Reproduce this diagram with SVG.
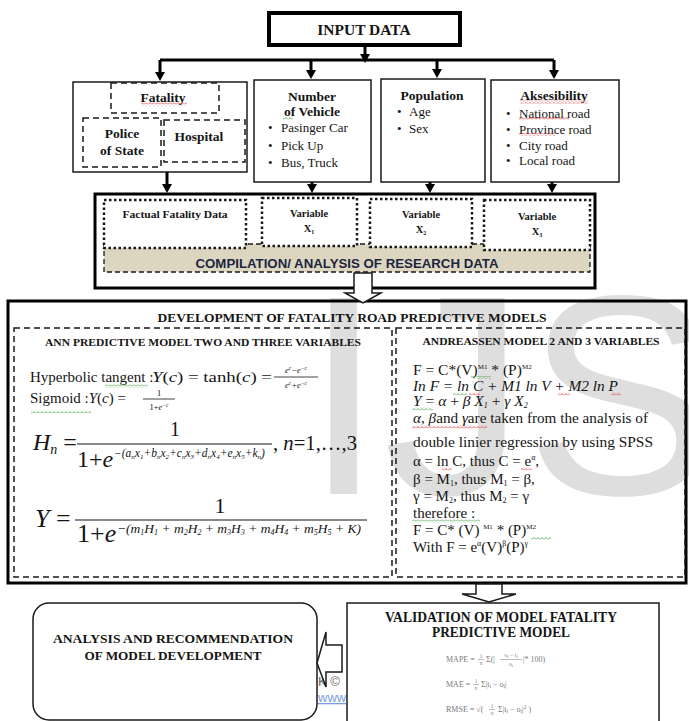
<svg xmlns="http://www.w3.org/2000/svg" width="689" height="721" viewBox="0 0 689 721">
<style>
.bt{font-family:"Liberation Serif",serif;font-weight:bold;fill:#151515}
.rt{font-family:"Liberation Serif",serif;fill:#151515}
.it{font-style:italic}
.box{fill:#fff;stroke:#1a1a1a;stroke-width:1.5}
.dash{fill:none;stroke:#1a1a1a;stroke-width:1.5;stroke-dasharray:6 4}
.dot{fill:#fff;stroke:#1a1a1a;stroke-width:2.5;stroke-dasharray:2.5 2.5}
.conn{stroke:#000;stroke-width:3;fill:none}
.block{fill:#fff;stroke:#1a1a1a;stroke-width:1.5;stroke-linejoin:miter}
.wm{font-family:"Liberation Sans",sans-serif;fill:#dedede}
.vf{font-family:"Liberation Serif",serif;fill:#7a7a7a}
</style>
<defs>
<marker id="ah" markerWidth="10" markerHeight="10" refX="2" refY="5" orient="auto" markerUnits="userSpaceOnUse">
<path d="M0,0 L9,5 L0,10 z" fill="#000"/>
</marker>
<pattern id="wr" width="4" height="3" patternUnits="userSpaceOnUse"><path d="M0 2.5 L2 0.5 L4 2.5" fill="none" stroke="#e03030" stroke-width="0.8"/></pattern>
<pattern id="wg" width="4" height="3" patternUnits="userSpaceOnUse"><path d="M0 2.5 L2 0.5 L4 2.5" fill="none" stroke="#3a9a3a" stroke-width="0.8"/></pattern>
</defs>
<rect width="689" height="721" fill="#fff"/>
<!-- watermark -->
<text class="wm" x="304" y="494" font-size="285">IJS</text>

<g id="input-data">
<rect x="269" y="13" width="191" height="32" fill="#fff" stroke="#000" stroke-width="4"/>
<text class="bt" x="364" y="35" font-size="15.5" text-anchor="middle">INPUT DATA</text>
</g>

<g id="fatality">
<rect class="box" x="73" y="82" width="174" height="90"/>
<rect class="dash" x="111" y="83" width="108" height="30"/>
<text class="bt" x="163" y="102" font-size="13.5" text-anchor="middle">Fatality</text>
<rect x="141" y="102.5" width="46" height="3" fill="url(#wr)"/>
<rect class="dash" x="83" y="118" width="78" height="49"/>
<text class="bt" x="122" y="138" font-size="13.5" text-anchor="middle">Police</text>
<text class="bt" x="122" y="155" font-size="13.5" text-anchor="middle">of State</text>
<rect class="dash" x="164" y="120" width="81" height="42"/>
<text class="bt" x="199" y="141" font-size="13.5" text-anchor="middle">Hospital</text>
</g>

<g id="number-of-vehicle">
<rect class="box" x="254" y="80" width="117" height="102"/>
<text class="bt" x="312" y="101" font-size="13.5" text-anchor="middle">Number</text>
<text class="bt" x="312" y="116" font-size="13.5" text-anchor="middle">of Vehicle</text>
<rect x="283" y="116.5" width="10" height="3" fill="url(#wg)"/>
<text class="rt" x="268" y="132" font-size="13">•</text><text class="rt" x="281" y="132" font-size="13">Pasinger Car</text>
<text class="rt" x="268" y="150" font-size="13">•</text><text class="rt" x="281" y="150" font-size="13">Pick Up</text>
<text class="rt" x="268" y="167" font-size="13">•</text><text class="rt" x="281" y="167" font-size="13">Bus,  Truck</text>
</g>

<g id="population">
<rect class="box" x="381" y="79" width="104" height="103"/>
<text class="bt" x="432" y="100" font-size="13.5" text-anchor="middle">Population</text>
<text class="rt" x="397" y="116" font-size="13">•</text><text class="rt" x="409" y="116" font-size="13">Age</text>
<text class="rt" x="397" y="133" font-size="13">•</text><text class="rt" x="409" y="133" font-size="13">Sex</text>
</g>

<g id="aksesibility">
<rect class="box" x="491" y="80" width="128" height="102"/>
<text class="bt" x="554" y="100" font-size="13.5" text-anchor="middle">Aksesibility</text>
<rect x="520" y="100.5" width="68" height="3" fill="url(#wr)"/>
<text class="rt" x="506" y="118" font-size="13">•</text><text class="rt" x="519" y="118" font-size="13">National road</text>
<rect x="519" y="117" width="50" height="3" fill="url(#wr)"/>
<text class="rt" x="506" y="134" font-size="13">•</text><text class="rt" x="519" y="134" font-size="13">Province road</text>
<rect x="519" y="133" width="36" height="3" fill="url(#wr)"/>
<text class="rt" x="506" y="150" font-size="13">•</text><text class="rt" x="519" y="150" font-size="13">City road</text>
<text class="rt" x="506" y="165" font-size="13">•</text><text class="rt" x="519" y="165" font-size="13">Local road</text>
</g>

<g id="compilation">
<rect x="95" y="194" width="500" height="94" fill="#fff" stroke="#000" stroke-width="3"/>
<rect x="104" y="244" width="486" height="28" fill="#dcd6c1" stroke="#1a1a1a" stroke-width="1.3" stroke-dasharray="5 3"/>
<text x="347" y="268" font-family="Liberation Sans, sans-serif" font-weight="bold" font-size="13" fill="#1d2540" text-anchor="middle" textLength="303" lengthAdjust="spacingAndGlyphs">COMPILATION/ ANALYSIS OF RESEARCH DATA</text>
</g>
<g id="factual-fatality-data">
<rect class="dot" x="104" y="200" width="142" height="48"/>
<text class="bt" x="175" y="218" font-size="9.5" text-anchor="middle" textLength="105" lengthAdjust="spacingAndGlyphs">Factual Fatality Data</text>
</g>
<g id="variable-x1">
<rect class="dot" x="262" y="198" width="95" height="48"/>
<text class="bt" x="309" y="217" font-size="10.5" text-anchor="middle">Variable</text>
<text class="bt" x="309" y="232" font-size="10.5" text-anchor="middle">X<tspan font-size="6" dy="2">1</tspan></text>
</g>
<g id="variable-x2">
<rect class="dot" x="370" y="199" width="102" height="48"/>
<text class="bt" x="421" y="218" font-size="10.5" text-anchor="middle">Variable</text>
<text class="bt" x="421" y="233" font-size="10.5" text-anchor="middle">X<tspan font-size="6" dy="2">2</tspan></text>
</g>
<g id="variable-x3">
<rect class="dot" x="484" y="200" width="106" height="50"/>
<text class="bt" x="537" y="220" font-size="10.5" text-anchor="middle">Variable</text>
<text class="bt" x="537" y="235" font-size="10.5" text-anchor="middle">X<tspan font-size="6" dy="2">3</tspan></text>
</g>

<g id="development">
<rect x="8" y="301" width="678" height="282" fill="none" stroke="#000" stroke-width="3"/>
<text class="bt" x="352" y="322" font-size="13" text-anchor="middle" textLength="389" lengthAdjust="spacingAndGlyphs">DEVELOPMENT OF FATALITY ROAD PREDICTIVE MODELS</text>
</g>

<g id="ann-model">
<rect class="dash" x="14" y="328" width="378" height="249"/>
<text class="bt" x="203" y="346" font-size="10" text-anchor="middle" textLength="316" lengthAdjust="spacingAndGlyphs">ANN PREDICTIVE MODEL TWO AND THREE VARIABLES</text>
<text class="rt" x="30" y="382" font-size="15">Hyperbolic tangent :</text>
<rect x="105" y="384.5" width="43" height="3" fill="url(#wg)"/>
<text class="rt" x="152" y="382" font-size="15" textLength="120" lengthAdjust="spacingAndGlyphs"><tspan class="it">Y</tspan>(<tspan class="it">c</tspan>) = tanh(<tspan class="it">c</tspan>) =</text>
<text class="rt it" x="296" y="373" font-size="8.5" text-anchor="middle">e<tspan font-size="5.5" dy="-3">c</tspan><tspan dy="3">−e</tspan><tspan font-size="5.5" dy="-3">−c</tspan></text>
<line x1="274" y1="377" x2="318" y2="377" stroke="#151515" stroke-width="0.8"/>
<text class="rt it" x="296" y="388" font-size="8.5" text-anchor="middle">e<tspan font-size="5.5" dy="-3">c</tspan><tspan dy="3">+e</tspan><tspan font-size="5.5" dy="-3">−c</tspan></text>
<text class="rt" x="30" y="403" font-size="15">Sigmoid :<tspan class="it">Y</tspan>(<tspan class="it">c</tspan>) =</text>
<rect x="31" y="410.5" width="60" height="3" fill="url(#wg)"/>
<text class="rt" x="159" y="396" font-size="8.5" text-anchor="middle">1</text>
<line x1="143" y1="399" x2="175" y2="399" stroke="#151515" stroke-width="0.8"/>
<text class="rt" x="159" y="410" font-size="8.5" text-anchor="middle">1+<tspan class="it">e</tspan><tspan font-size="5.5" dy="-3" class="it">−c</tspan></text>
<text class="rt it" x="33" y="450" font-size="24">H<tspan font-size="14" dy="4">n</tspan><tspan dy="-4" font-style="normal"> =</tspan></text>
<text class="rt" x="175" y="436" font-size="20" text-anchor="middle">1</text>
<line x1="77" y1="444" x2="272" y2="444" stroke="#151515" stroke-width="1.2"/>
<text class="rt" x="77" y="467" font-size="24">1+<tspan class="it">e</tspan></text>
<text class="rt it" x="114" y="457" font-size="11.5">−(a<tspan font-size="7" dy="2">n</tspan><tspan dy="-2">x</tspan><tspan font-size="7" dy="2">1</tspan><tspan dy="-2">+b</tspan><tspan font-size="7" dy="2">n</tspan><tspan dy="-2">x</tspan><tspan font-size="7" dy="2">2</tspan><tspan dy="-2">+c</tspan><tspan font-size="7" dy="2">n</tspan><tspan dy="-2">x</tspan><tspan font-size="7" dy="2">3</tspan><tspan dy="-2">+d</tspan><tspan font-size="7" dy="2">n</tspan><tspan dy="-2">x</tspan><tspan font-size="7" dy="2">4</tspan><tspan dy="-2">+e</tspan><tspan font-size="7" dy="2">n</tspan><tspan dy="-2">x</tspan><tspan font-size="7" dy="2">5</tspan><tspan dy="-2">+k</tspan><tspan font-size="7" dy="2">n</tspan><tspan dy="-2">)</tspan></text>
<text class="rt" x="273" y="450" font-size="22" textLength="84" lengthAdjust="spacingAndGlyphs">, <tspan class="it">n</tspan>=1,…,3</text>
<text class="rt" x="35" y="527" font-size="26"><tspan class="it">Y</tspan> =</text>
<text class="rt" x="220" y="513" font-size="22" text-anchor="middle">1</text>
<line x1="75" y1="520" x2="367" y2="520" stroke="#151515" stroke-width="1.2"/>
<text class="rt" x="77" y="542" font-size="26">1+<tspan class="it">e</tspan></text>
<text class="rt it" x="117" y="533" font-size="13.5">−(m<tspan font-size="8" dy="2">1</tspan><tspan dy="-2">H</tspan><tspan font-size="8" dy="2">1</tspan><tspan dy="-2"> + m</tspan><tspan font-size="8" dy="2">2</tspan><tspan dy="-2">H</tspan><tspan font-size="8" dy="2">2</tspan><tspan dy="-2"> + m</tspan><tspan font-size="8" dy="2">3</tspan><tspan dy="-2">H</tspan><tspan font-size="8" dy="2">3</tspan><tspan dy="-2"> + m</tspan><tspan font-size="8" dy="2">4</tspan><tspan dy="-2">H</tspan><tspan font-size="8" dy="2">4</tspan><tspan dy="-2"> + m</tspan><tspan font-size="8" dy="2">5</tspan><tspan dy="-2">H</tspan><tspan font-size="8" dy="2">5</tspan><tspan dy="-2"> + K)</tspan></text>
</g>

<g id="andreassen-model">
<rect class="dash" x="396" y="328" width="289" height="249"/>
<text class="bt" x="541" y="345" font-size="10" text-anchor="middle" textLength="237" lengthAdjust="spacingAndGlyphs">ANDREASSEN MODEL 2 AND 3 VARIABLES</text>
<text class="rt" x="413" y="375" font-size="15.5">F = C*(V)<tspan font-size="7" dy="-6">M1</tspan><tspan dy="6"> * (P)</tspan><tspan font-size="7" dy="-6">M2</tspan></text>
<rect x="471" y="376" width="20" height="3" fill="url(#wg)"/>
<text class="rt it" x="413" y="391" font-size="15" textLength="205" lengthAdjust="spacingAndGlyphs">In F = ln C + M1 ln V  +  M2 ln P</text>
<rect x="453" y="392.5" width="14" height="3" fill="url(#wg)"/>
<rect x="469" y="392.5" width="11" height="3" fill="url(#wr)"/>
<rect x="558" y="392.5" width="12" height="3" fill="url(#wr)"/>
<rect x="611" y="392.5" width="10" height="3" fill="url(#wr)"/>
<text class="rt" x="413" y="406" font-size="15.5"><tspan class="it">Y</tspan> =  <tspan class="it">α</tspan> +  <tspan class="it">β X</tspan><tspan class="it" font-size="8" dy="2">1</tspan><tspan dy="-2"> + </tspan><tspan class="it">γ X</tspan><tspan class="it" font-size="8" dy="2">2</tspan></text>
<rect x="412" y="407.5" width="21" height="3" fill="url(#wg)"/>
<text class="rt" x="413" y="423" font-size="15" textLength="235" lengthAdjust="spacingAndGlyphs"><tspan class="it">α, β</tspan>and <tspan class="it">γ</tspan>are taken from the analysis of</text>
<rect x="412" y="425.5" width="75" height="3" fill="url(#wr)"/>
<text class="rt" x="413" y="447" font-size="15" textLength="240" lengthAdjust="spacingAndGlyphs">double linier regression by using SPSS</text>
<text class="rt" x="413" y="466" font-size="15">α = ln C, thus C = e<tspan font-size="8" dy="-6">α</tspan><tspan dy="6">,</tspan></text>
<rect x="442" y="467.5" width="10" height="3" fill="url(#wr)"/>
<rect x="521" y="467.5" width="11" height="3" fill="url(#wr)"/>
<text class="rt" x="413" y="484" font-size="15">β = M<tspan font-size="8" dy="2">1</tspan><tspan dy="-2">, thus M</tspan><tspan font-size="8" dy="2">1</tspan><tspan dy="-2"> = β,</tspan></text>
<text class="rt" x="413" y="501" font-size="15">γ = M<tspan font-size="8" dy="2">2</tspan><tspan dy="-2">, thus M</tspan><tspan font-size="8" dy="2">2</tspan><tspan dy="-2"> = γ</tspan></text>
<text class="rt" x="413" y="518" font-size="15">therefore :</text>
<rect x="412" y="519.5" width="68" height="3" fill="url(#wg)"/>
<text class="rt" x="413" y="535" font-size="15">F = C* (V) <tspan font-size="7" dy="-6">M1</tspan><tspan dy="6"> * (P)</tspan><tspan font-size="7" dy="-6">M2</tspan></text>
<rect x="531" y="537" width="20" height="3" fill="url(#wg)"/>
<text class="rt" x="413" y="552" font-size="15">With F = e<tspan font-size="8" dy="-6">α</tspan><tspan dy="6">(V)</tspan><tspan font-size="8" dy="-6">β</tspan><tspan dy="6">(P)</tspan><tspan font-size="8" dy="-6">γ</tspan></text>
</g>

<!-- partially covered page footer -->
<text x="318" y="686" font-family="Liberation Sans, sans-serif" font-size="13" fill="#666">K ©</text>
<text x="318" y="702" font-family="Liberation Sans, sans-serif" font-size="13" fill="#7a9ce0" text-decoration="underline">www</text>

<g id="analysis-recommendation">
<rect x="33" y="603" width="284" height="117" rx="16" ry="16" fill="#fff" stroke="#1a1a1a" stroke-width="1.5"/>
<text class="bt" x="173" y="643" font-size="13.5" text-anchor="middle" textLength="240" lengthAdjust="spacingAndGlyphs">ANALYSIS AND RECOMMENDATION</text>
<text class="bt" x="173" y="660" font-size="13.5" text-anchor="middle" textLength="177" lengthAdjust="spacingAndGlyphs">OF MODEL DEVELOPMENT</text>
</g>

<g id="validation">
<rect x="347" y="603" width="312" height="125" fill="#fff" stroke="#1a1a1a" stroke-width="1.5"/>
<text class="bt" x="501" y="622" font-size="14" text-anchor="middle" textLength="232" lengthAdjust="spacingAndGlyphs">VALIDATION OF MODEL FATALITY</text>
<text class="bt" x="501" y="637" font-size="14" text-anchor="middle" textLength="138" lengthAdjust="spacingAndGlyphs">PREDICTIVE MODEL</text>
<text class="vf" x="446" y="662" font-size="8">MAPE =</text>
<text class="vf" x="481" y="658" font-size="5.5" text-anchor="middle">1</text>
<line x1="478" y1="659.5" x2="484" y2="659.5" stroke="#7a7a7a" stroke-width="0.5"/>
<text class="vf it" x="481" y="665" font-size="5.5" text-anchor="middle">n</text>
<text class="vf" x="486" y="662" font-size="8">Σ(|</text>
<text class="vf" x="511" y="657" font-size="6" text-anchor="middle">o<tspan font-size="4.5" dy="1">i</tspan><tspan dy="-1"> − t</tspan><tspan font-size="4.5" dy="1">i</tspan></text>
<line x1="500" y1="659.5" x2="522" y2="659.5" stroke="#7a7a7a" stroke-width="0.5"/>
<text class="vf" x="511" y="666" font-size="6" text-anchor="middle">o<tspan font-size="4.5" dy="1">i</tspan></text>
<text class="vf" x="523" y="662" font-size="8">|* 100)</text>
<text class="vf" x="446" y="687" font-size="8">MAE =</text>
<text class="vf" x="476" y="683" font-size="5.5" text-anchor="middle">1</text>
<line x1="473" y1="684.5" x2="479" y2="684.5" stroke="#7a7a7a" stroke-width="0.5"/>
<text class="vf it" x="476" y="690" font-size="5.5" text-anchor="middle">n</text>
<text class="vf" x="481" y="687" font-size="8">Σ|t<tspan font-size="5.5" dy="1">i</tspan><tspan dy="-1"> − o</tspan><tspan font-size="5.5" dy="1">i</tspan><tspan dy="-1">|</tspan></text>
<text class="vf" x="446" y="712" font-size="8">RMSE = √(</text>
<text class="vf" x="492" y="708" font-size="5.5" text-anchor="middle">1</text>
<line x1="489" y1="709.5" x2="495" y2="709.5" stroke="#7a7a7a" stroke-width="0.5"/>
<text class="vf it" x="492" y="715" font-size="5.5" text-anchor="middle">n</text>
<text class="vf" x="498" y="712" font-size="8">Σ|t<tspan font-size="5.5" dy="1">i</tspan><tspan dy="-1"> − o</tspan><tspan font-size="5.5" dy="1">i</tspan><tspan dy="-1">|</tspan><tspan font-size="5.5" dy="-3">2</tspan><tspan dy="3"> )</tspan></text>
</g>

<g id="connectors">
<path class="conn" d="M365 45 V56" marker-end="url(#ah)"/>
<path class="conn" d="M160 60 H554"/>
<path class="conn" d="M160 60 V74" marker-end="url(#ah)"/>
<path class="conn" d="M311 60 V72" marker-end="url(#ah)"/>
<path class="conn" d="M437 60 V71" marker-end="url(#ah)"/>
<path class="conn" d="M554 60 V72" marker-end="url(#ah)"/>
<path class="conn" d="M167 172 V186" marker-end="url(#ah)"/>
<path class="conn" d="M312 182 V186" marker-end="url(#ah)"/>
<path class="conn" d="M430 182 V186" marker-end="url(#ah)"/>
<path class="conn" d="M552 182 V186" marker-end="url(#ah)"/>
<polygon class="block" points="354,273 372,273 372,293 381,293 363,303 345,293 354,293"/>
<polygon class="block" points="476,584 502,584 502,594 516,594 489,602 462,594 476,594"/>
<polygon class="block" points="342,645 326,645 326,632 317,663 326,687 326,672 342,672"/>
</g>
</svg>
